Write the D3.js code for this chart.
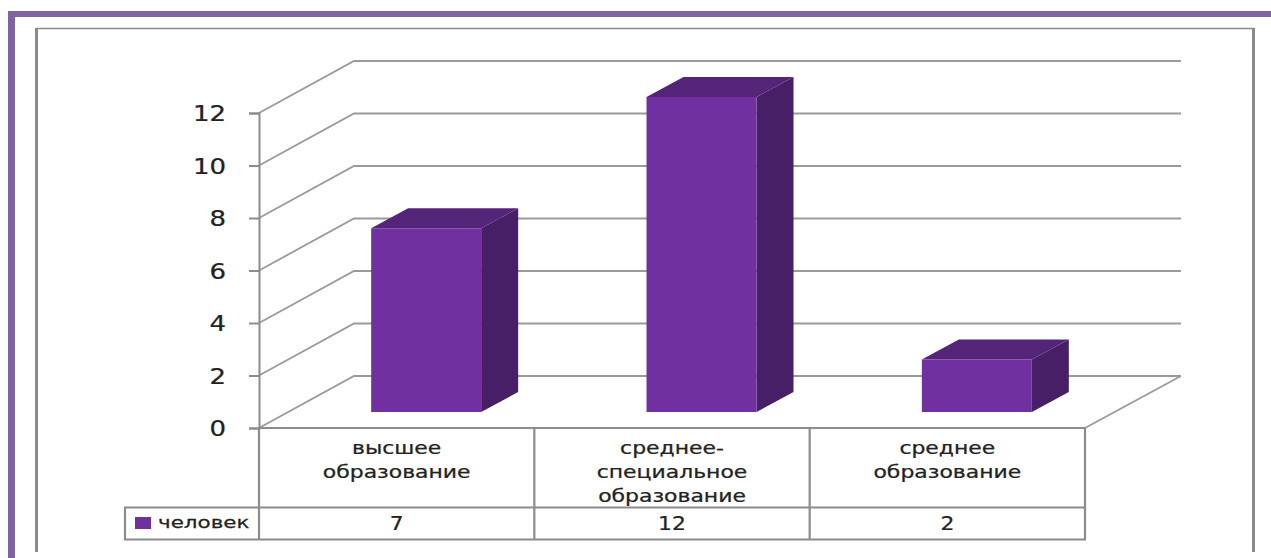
<!DOCTYPE html>
<html><head><meta charset="utf-8">
<script src="https://cdn.jsdelivr.net/npm/d3@7/dist/d3.min.js"></script>
<style>html,body{margin:0;padding:0;background:#fff;overflow:hidden}svg{display:block}text{font-family:"DejaVu Sans",sans-serif;fill:#222;stroke:#222;stroke-width:0.25px}</style>
</head><body>
<svg id="c" width="1271" height="558"></svg>
<script>
const categories = [["высшее","образование"],["среднее-","специальное","образование"],["среднее","образование"]];
const values = [7,12,2];
const seriesName = "человек";
const yTicks = [0,2,4,6,8,10,12];
const colors = {front:"#7030a0",top:"#542478",side:"#461f66",grid:"#9a9a9a",table:"#8c8c8c",frame:"#8064a2",box:"#8a8a8a"};

const svg = d3.select("#c");
const y = d3.scaleLinear().domain([0,12]).range([428,113]);
const x = d3.scaleBand().domain(d3.range(categories.length)).range([259,1085]);
const depth = {dx:95,dy:-52};
const barDepth = {dx:37,dy:-20};
const barOff = {dx:29.5,dy:-16};
const barW = 110;

// stretched text helper: the reference's type is widened horizontally
function wideText(g,cx,cy,str,size,anchor,stretch){
  return g.append("text").attr("transform",`translate(${cx},${cy}) scale(${stretch},1)`)
    .attr("text-anchor",anchor||"middle").attr("font-size",size).text(str);
}

// outer frames
svg.append("rect").attr("x",8).attr("y",11).attr("width",1263).attr("height",6).attr("fill",colors.frame);
svg.append("rect").attr("x",8).attr("y",11).attr("width",7).attr("height",547).attr("fill",colors.frame);
svg.append("path").attr("d","M36,28.5H1254").attr("stroke",colors.box).attr("stroke-width",1.5);
svg.append("path").attr("d","M36.5,552V28M1253.5,552V28").attr("fill","none").attr("stroke",colors.box).attr("stroke-width",3);

// gridlines on walls
const grid = svg.append("g").attr("fill","none").attr("stroke",colors.grid).attr("stroke-width",1.8);
yTicks.forEach(t=>{
  grid.append("path").attr("d",d3.line()([[x.range()[0],y(t)],[x.range()[0]+depth.dx,y(t)+depth.dy],[x.range()[1]+depth.dx+1,y(t)+depth.dy]]));
});
grid.append("path").attr("d",d3.line()([[x.range()[1],y(0)],[x.range()[1]+depth.dx+1,y(0)+depth.dy]]));

// y axis
const axis = svg.append("g").attr("transform",`translate(${x.range()[0]},0)`).call(d3.axisLeft(y).tickValues(yTicks).tickSize(10));
axis.selectAll("path,line").attr("stroke",colors.table).attr("stroke-width",2);
axis.selectAll("text").remove();
const yLab = svg.append("g");
yTicks.forEach(t=>wideText(yLab,226,y(t)+8,t,22,"end",1.18));

// bars
const bars = svg.append("g").selectAll("g").data(values).join("g");
const fx = (d,i)=>x(i)+(x.bandwidth()-barW)/2+barOff.dx;
const by = y(0)+barOff.dy;
const ty = d=>y(d)+barOff.dy;
bars.append("path").attr("fill",colors.side).attr("d",(d,i)=>{const X=fx(d,i)+barW;return d3.line()([[X,by],[X+barDepth.dx,by+barDepth.dy],[X+barDepth.dx,ty(d)+barDepth.dy],[X,ty(d)]])+"Z";});
bars.append("path").attr("fill",colors.top).attr("d",(d,i)=>{const X=fx(d,i);return d3.line()([[X,ty(d)],[X+barDepth.dx,ty(d)+barDepth.dy],[X+barW+barDepth.dx,ty(d)+barDepth.dy],[X+barW,ty(d)]])+"Z";});
bars.append("rect").attr("fill",colors.front).attr("x",fx).attr("y",ty).attr("width",barW).attr("height",d=>by-ty(d));

// data table
const rowTop = y(0), rowMid = 507.5, rowBot = 539.5, legL = 125;
const tb = svg.append("g").attr("fill","none").attr("stroke",colors.table).attr("stroke-width",2.2);
tb.append("line").attr("x1",x.range()[0]).attr("x2",x.range()[1]).attr("y1",rowTop).attr("y2",rowTop);
tb.append("path").attr("d",`M${x.range()[1]},${rowTop}V${rowBot}H${legL}V${rowMid}H${x.range()[1]}`);
d3.range(categories.length).forEach(i=>{
  tb.append("line").attr("x1",x(i)).attr("x2",x(i)).attr("y1",rowTop).attr("y2",rowBot);
});
const lab = svg.append("g");
categories.forEach((c,i)=>{
  const cx = x(i)+x.bandwidth()/2;
  c.forEach((l,j)=>wideText(lab,cx,454+j*24,l,17,"middle",1.29));
  wideText(lab,cx,530,values[i],19,"middle",1.15);
});
svg.append("rect").attr("x",135).attr("y",517).attr("width",16).attr("height",12).attr("fill",colors.front);
wideText(svg,158,528,seriesName,16.5,"start",1.3);
</script>
</body></html>
